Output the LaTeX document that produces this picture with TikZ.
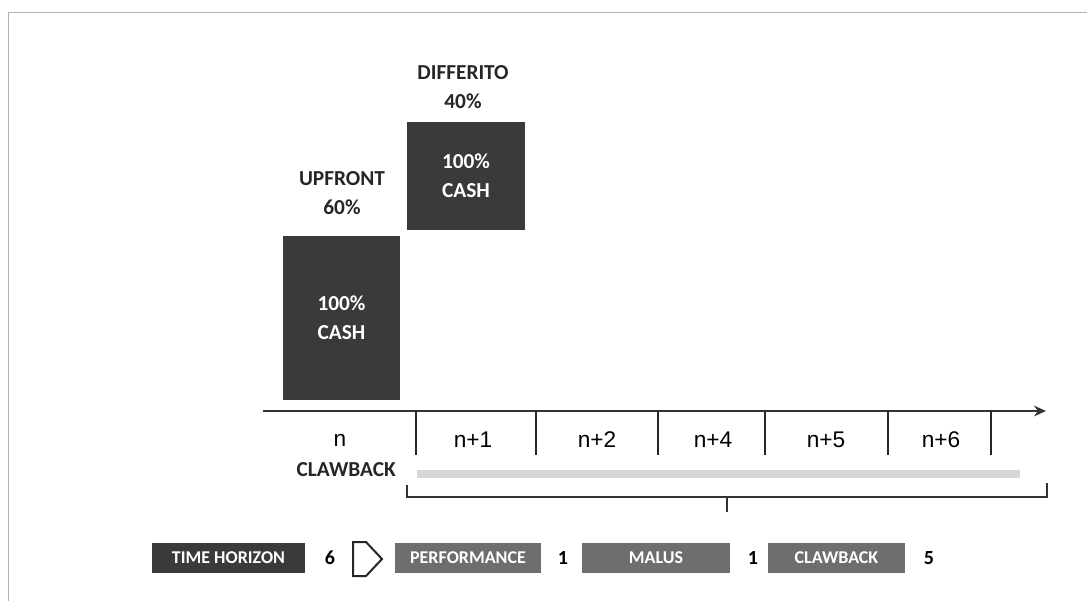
\documentclass[tikz,border=0pt]{standalone}
\usepackage{fontspec}
\setmainfont{Carlito}
\newfontfamily\arialf{Liberation Sans}
\usetikzlibrary{arrows.meta}
\definecolor{boxdark}{HTML}{3A3A3A}
\definecolor{boxmid}{HTML}{6E6E6E}
\definecolor{barlight}{HTML}{D6D6D6}
\definecolor{framegray}{HTML}{B0B0B0}
\begin{document}
\begin{tikzpicture}[x=0.75pt,y=-0.75pt,
  bigbox/.style={fill=boxdark,draw=none,text=white,align=center,inner sep=0pt,
    font=\bfseries\fontsize{16}{21.75}\selectfont},
  toplabel/.style={align=center,inner sep=0pt,text=black!85,
    font=\bfseries\fontsize{16}{21.75}\selectfont},
  yearlabel/.style={inner sep=0pt,font=\arialf\fontsize{17}{20}\selectfont},
  tickline/.style={line width=2.2pt,black!85},
  axisline/.style={line width=2.2pt,black!80},
  bracketline/.style={line width=1.4pt,black!80},
  tagbox/.style={draw=none,text=white,inner sep=0pt,minimum height=22.5pt,
    font=\bfseries\fontsize{13.5}{16}\selectfont},
  numlabel/.style={inner sep=0pt,font=\bfseries\fontsize{15}{18}\selectfont},
]
\useasboundingbox (0,0) rectangle (1087,601);
% scan frame
\draw[framegray,line width=0.6pt] (8,601) -- (8,12) -- (1087,12);

% boxes
\node[bigbox,minimum width=87.75pt,minimum height=123pt] (up) at (341.5,318) {100\%\\CASH};
\node[bigbox,minimum width=88.5pt,minimum height=81pt] (diff) at (466,176) {100\%\\CASH};
\node[toplabel] (uplab) at (342,193.5) {UPFRONT\\60\%};
\node[toplabel] (difflab) at (463,87) {DIFFERITO\\40\%};

% axis
\coordinate (ax0) at (263,411);
\coordinate (ax1) at (1046,411);
\draw[axisline,-{Stealth[length=9pt,width=8pt]}] (ax0) -- (ax1);
\foreach \i/\x in {1/416,2/536,3/658,4/765,5/888,6/991}{
  \coordinate (t\i a) at (\x,411);
  \coordinate (t\i b) at (\x,455);
  \draw[tickline] (t\i a) -- (t\i b);
}
\node[yearlabel] (y0) at (340,440) {n};
\node[yearlabel] (y1) at (473,440) {n+1};
\node[yearlabel] (y2) at (597,440) {n+2};
\node[yearlabel] (y4) at (713,440) {n+4};
\node[yearlabel] (y5) at (826,440) {n+5};
\node[yearlabel] (y6) at (941,440) {n+6};

% clawback
\node[toplabel,anchor=east] (claw) at (396,470) {CLAWBACK};
\fill[barlight] (417,470) rectangle (1020,478);
\coordinate (b0) at (407,485);
\coordinate (b1) at (407,497);
\coordinate (b2) at (1047,497);
\coordinate (b3) at (1047,483);
\coordinate (bm) at (727,497);
\coordinate (bt) at (727,512);
\draw[bracketline] (b0) -- (b1) -- (b2) -- (b3);
\draw[bracketline] (bm) -- (bt);

% bottom row
\node[tagbox,fill=boxdark,minimum width=114.75pt] (th) at (228.5,558) {TIME HORIZON};
\node[numlabel] (n6) at (330,558) {6};
\coordinate (c1) at (353,542);
\coordinate (c2) at (366,542);
\coordinate (c3) at (382,559);
\coordinate (c4) at (366,576);
\coordinate (c5) at (353,576);
\draw[line width=1.5pt,black!85,line join=miter] (c1) -- (c2) -- (c3) -- (c4) -- (c5) -- cycle;
\node[tagbox,fill=boxmid,minimum width=109.5pt] (perf) at (468,558) {PERFORMANCE};
\node[numlabel] (n1a) at (563,558) {1};
\node[tagbox,fill=boxmid,minimum width=111pt] (mal) at (656,558) {MALUS};
\node[numlabel] (n1b) at (753,558) {1};
\node[tagbox,fill=boxmid,minimum width=102.75pt] (cb) at (836.5,558) {CLAWBACK};
\node[numlabel] (n5) at (929,558) {5};
\end{tikzpicture}
\end{document}
